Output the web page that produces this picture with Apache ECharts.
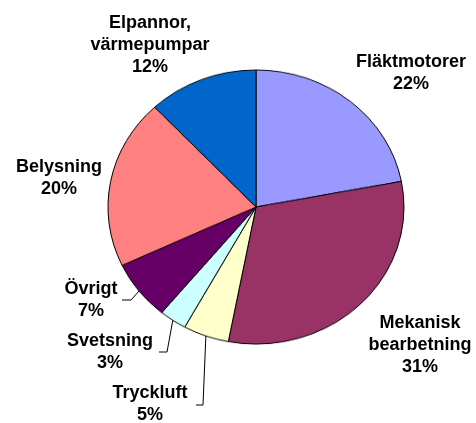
<!DOCTYPE html>
<html>
<head>
<meta charset="utf-8">
<script src="https://cdn.jsdelivr.net/npm/echarts@6/dist/echarts.min.js"></script>
<style>
  html, body { margin: 0; padding: 0; background: #fff; }
  #wrap { position: relative; width: 476px; height: 423px; }
  #pie, #labels { position: absolute; left: 0; top: 0; width: 476px; height: 423px; }
  /* Excel drew the pie slightly flattened: squash the pie layer only */
  #pie { transform-origin: 256px 207px; transform: scaleY(0.926); }
</style>
</head>
<body>
<div id="wrap">
  <div id="pie"></div>
  <div id="labels"></div>
</div>
<script>
// Elförbrukning per användningsområde (%)
const categories = ['Fläktmotorer', 'Mekanisk\nbearbetning', 'Tryckluft', 'Svetsning', 'Övrigt', 'Belysning', 'Elpannor,\nvärmepumpar']
const shares = [22, 31, 5, 3, 7, 20, 12]
const colors = ['#9999FF', '#993366', '#FFFFCC', '#CCFFFF', '#660066', '#FF8080', '#0066CC']

const CX = 256, CY = 207, R = 148
const squash = 0.926

// where each label sits (center of text block), and leader line bend/end if any
const labelPos = [
  { x: 411, y: 73 },
  { x: 420, y: 345 },
  { x: 150, y: 404, line: [[203, 405], [196, 405]] },
  { x: 110, y: 352, line: [[167, 352], [159, 352]] },
  { x: 91, y: 300, line: [[131, 300], [122, 300]] },
  { x: 59, y: 178 },
  { x: 150, y: 45 }
]

const pieData = (withColor) => categories.map((name, i) => ({
  name: name,
  value: shares[i],
  itemStyle: { color: withColor ? colors[i] : 'rgba(0,0,0,0)' },
  labelLine: { show: !!labelPos[i].line }
}))

// layer 1: the slices
const pieChart = echarts.init(document.getElementById('pie'))
pieChart.setOption({
  animation: false,
  series: [{
    type: 'pie',
    center: [CX, CY],
    radius: R,
    startAngle: 90,
    clockwise: true,
    data: pieData(true),
    itemStyle: { borderColor: '#000', borderWidth: 1 },
    label: { show: false },
    labelLine: { show: false }
  }]
})

// layer 2: the labels, unsquashed
const labelChart = echarts.init(document.getElementById('labels'))
labelChart.setOption({
  animation: false,
  series: [{
    type: 'pie',
    silent: true,
    center: [CX, CY],
    radius: R,
    startAngle: 90,
    clockwise: true,
    data: pieData(false),
    itemStyle: { borderWidth: 0 },
    label: {
      show: true,
      position: 'outside',
      overflow: 'none',
      formatter: '{b}\n{c}%',
      color: '#000',
      fontFamily: 'Liberation Sans, Arial, sans-serif',
      fontWeight: 'bold',
      fontSize: 18,
      lineHeight: 22,
      align: 'center'
    },
    labelLine: {
      lineStyle: { color: '#000', width: 1 }
    },
    labelLayout: (params) => {
      const p = labelPos[params.dataIndex]
      const res = { x: p.x, y: p.y, align: 'center', verticalAlign: 'middle' }
      if (p.line && params.labelLinePoints) {
        const s = params.labelLinePoints[0]
        const start = [s[0], CY + (s[1] - CY) * squash]
        res.labelLinePoints = [start].concat(p.line)
      }
      return res
    }
  }]
})
</script>
</body>
</html>
